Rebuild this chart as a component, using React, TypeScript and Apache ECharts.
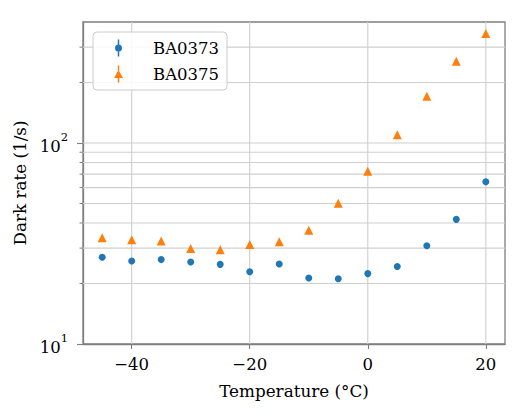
import React, { useEffect, useRef } from "react";
import * as echarts from "echarts";

const temperatures = [-45, -40, -35, -30, -25, -20, -15, -10, -5, 0, 5, 10, 15, 20];
const ba0373 = [27.0, 25.9, 26.3, 25.6, 24.9, 22.9, 25.0, 21.3, 21.1, 22.4, 24.3, 30.8, 41.7, 64.2];
const ba0375 = [33.8, 33.0, 32.5, 29.9, 29.4, 31.3, 32.3, 36.8, 50.1, 72.3, 110, 171, 255, 351];
const xTicks = [-40, -20, 0, 20];
const yMajorTicks = [10, 100];
const yMinorTicks = [20, 30, 40, 50, 60, 70, 80, 90, 200, 300];
const yGridLines = [20, 30, 40, 50, 60, 70, 80, 90, 100, 200, 300];
const seriesNames = ["BA0373", "BA0375"];

const X_MIN = -48.25;
const X_MAX = 23.25;
const Y_MIN = 10;
const Y_MAX = 400;

const FONT = "DejaVu Serif";
const SPINE = "#7f7f7f";
const GRID = "#cfcfcf";
const BLUE = "#1f77b4";
const ORANGE = "#ff7f0e";

const circleIcon =
  "path://M3.25 0 L4.75 0 L4.75 5.5 L3.25 5.5 Z M3.25 11.5 L4.75 11.5 L4.75 17 L3.25 17 Z M0.5 8.5 A3.5 3.5 0 1 1 7.5 8.5 A3.5 3.5 0 1 1 0.5 8.5 Z";
const triIcon =
  "path://M3.75 0 L5.25 0 L5.25 5 L3.75 5 Z M3.75 12.5 L5.25 12.5 L5.25 17 L3.75 17 Z M0 12.5 L4.5 4.5 L9 12.5 Z";

export default function App() {
  const ref = useRef<HTMLDivElement>(null);
  useEffect(() => {
    if (!ref.current) return;
    const chart = echarts.init(ref.current, undefined, { renderer: "svg" });
    const option: any = {
      animation: false,
      backgroundColor: "#ffffff",
      textStyle: { fontFamily: FONT },
      grid: {
        left: 83,
        right: 23,
        top: 22,
        bottom: 74,
        show: true,
        borderColor: SPINE,
        borderWidth: 1.3,
        backgroundColor: "transparent",
      },
      legend: {
        left: 93,
        top: 32,
        orient: "vertical",
        backgroundColor: "rgba(255,255,255,0.85)",
        borderColor: "#cccccc",
        borderWidth: 1,
        borderRadius: 4,
        padding: [6, 8, 6, 21],
        itemGap: 6,
        itemWidth: 9,
        itemHeight: 17,
        textStyle: {
          fontFamily: FONT,
          fontSize: 16.5,
          color: "#000",
          lineHeight: 20,
          padding: [0, 0, 0, 25],
        },
        data: [
          { name: seriesNames[0], icon: circleIcon, itemStyle: { color: BLUE, opacity: 1 } },
          { name: seriesNames[1], icon: triIcon, itemStyle: { color: ORANGE, opacity: 1 } },
        ],
      },
      xAxis: {
        type: "value",
        min: X_MIN,
        max: X_MAX,
        name: "Temperature (°C)",
        nameLocation: "middle",
        nameGap: 38,
        nameTextStyle: { fontFamily: FONT, fontSize: 16.8, color: "#000" },
        axisLine: { show: true, onZero: false, lineStyle: { color: SPINE, width: 1.3 } },
        axisTick: {
          show: true,
          customValues: xTicks,
          length: 5,
          lineStyle: { color: SPINE, width: 1.1 },
        },
        axisLabel: {
          customValues: xTicks,
          margin: 12,
          fontFamily: FONT,
          fontSize: 16.5,
          color: "#000",
          formatter: (v: number) => (v < 0 ? "\u2212" + Math.abs(v) : String(v)),
        },
        splitLine: { show: false },
      },
      yAxis: {
        type: "log",
        logBase: 10,
        min: Y_MIN,
        max: Y_MAX,
        name: "Dark rate (1/s)",
        nameLocation: "middle",
        nameGap: 42,
        nameTextStyle: { fontFamily: FONT, fontSize: 16.8, color: "#000" },
        axisLine: { show: true, onZero: false, lineStyle: { color: SPINE, width: 1.3 } },
        axisTick: {
          show: true,
          customValues: yMajorTicks,
          length: 6,
          lineStyle: { color: SPINE, width: 1.1 },
        },
        axisLabel: {
          customValues: yMajorTicks,
          margin: 15,
          formatter: (v: number) => {
            const e = Math.round(Math.log10(v));
            if (Math.abs(Math.pow(10, e) - v) > 1e-6) return "";
            return "{b|10}{s|" + e + "}";
          },
          rich: {
            b: { fontFamily: FONT, fontSize: 16.5, color: "#000", lineHeight: 24, verticalAlign: "bottom" },
            s: { fontFamily: FONT, fontSize: 11.5, color: "#000", lineHeight: 14, verticalAlign: "top" },
          },
        },
        splitLine: { show: false },
      },
      series: [
        {
          type: "custom",
          name: "hgrid",
          silent: true,
          z: 1,
          data: yGridLines.map((v) => [X_MIN, v]),
          renderItem: (params: any, api: any) => {
            const p = api.coord([api.value(0), api.value(1)]);
            const cs = params.coordSys;
            return {
              type: "line",
              shape: { x1: cs.x, y1: p[1], x2: cs.x + cs.width, y2: p[1] },
              style: { stroke: GRID, lineWidth: 1.1 },
            };
          },
        },
        {
          type: "custom",
          name: "vgrid",
          silent: true,
          z: 1,
          data: xTicks.map((v) => [v, Y_MIN]),
          renderItem: (params: any, api: any) => {
            const p = api.coord([api.value(0), api.value(1)]);
            const cs = params.coordSys;
            return {
              type: "line",
              shape: { x1: p[0], y1: cs.y, x2: p[0], y2: cs.y + cs.height },
              style: { stroke: GRID, lineWidth: 1.1 },
            };
          },
        },
        {
          type: "custom",
          name: "minorTicks",
          silent: true,
          z: 3,
          data: yMinorTicks.map((v) => [X_MIN, v]),
          renderItem: (params: any, api: any) => {
            const p = api.coord([api.value(0), api.value(1)]);
            const cs = params.coordSys;
            return {
              type: "line",
              shape: { x1: cs.x - 3.5, y1: p[1], x2: cs.x, y2: p[1] },
              style: { stroke: SPINE, lineWidth: 1 },
            };
          },
        },
        {
          type: "scatter",
          name: seriesNames[0],
          symbol: "circle",
          symbolSize: 7,
          z: 5,
          itemStyle: { color: BLUE, opacity: 1 },
          data: temperatures.map((t, i) => [t, ba0373[i]]),
        },
        {
          type: "scatter",
          name: seriesNames[1],
          symbol: "triangle",
          symbolSize: 9,
          z: 5,
          itemStyle: { color: ORANGE, opacity: 1 },
          data: temperatures.map((t, i) => [t, ba0375[i]]),
        },
      ],
    };
    chart.setOption(option);
    return () => chart.dispose();
  }, []);
  return (
    <div
      ref={ref}
      style={{ position: "fixed", left: 0, top: 0, width: 528, height: 418 }}
    />
  );
}
